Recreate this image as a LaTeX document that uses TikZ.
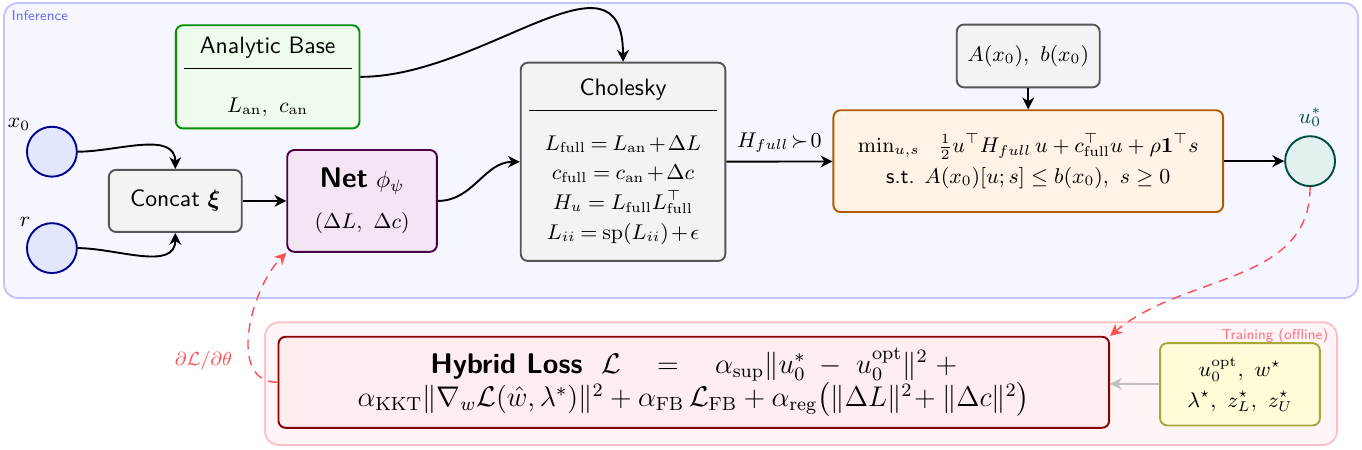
\documentclass[tikz,border=0pt]{standalone}
\usepackage{amsmath,amssymb,bm}
\usetikzlibrary{arrows.meta,positioning}
\definecolor{inferfill}{HTML}{F5F6FF}
\definecolor{inferdraw}{HTML}{C2C4FF}
\definecolor{inferlbl}{HTML}{6C70FF}
\definecolor{trainfill}{HTML}{FFF5F6}
\definecolor{traindraw}{HTML}{FFC0C4}
\definecolor{trainlbl}{HTML}{FF7080}
\definecolor{infill}{HTML}{E3E6FF}
\definecolor{indraw}{HTML}{000090}
\definecolor{boxfill}{HTML}{F3F3F3}
\definecolor{boxdraw}{HTML}{555555}
\definecolor{netfill}{HTML}{F3E5F3}
\definecolor{netdraw}{HTML}{4A0048}
\definecolor{basefill}{HTML}{EEFCEE}
\definecolor{basedraw}{HTML}{009000}
\definecolor{qpfill}{HTML}{FFF3E5}
\definecolor{qpdraw}{HTML}{B05A00}
\definecolor{outfill}{HTML}{E2F1EF}
\definecolor{outdraw}{HTML}{004D40}
\definecolor{lossfill}{HTML}{FDEDEE}
\definecolor{lossdraw}{HTML}{8B0000}
\definecolor{tgtfill}{HTML}{FFFDD8}
\definecolor{tgtdraw}{HTML}{A8A838}
\definecolor{gradred}{HTML}{FF5050}
\tikzset{
  box/.style={draw=boxdraw, fill=boxfill, thick, rounded corners=3pt, align=center, font=\sffamily},
  innode/.style={circle, draw=indraw, fill=infill, thick, minimum size=0.74cm},
  arr/.style={->, thick},
  gradarr/.style={->, semithick, dash pattern=on 4pt off 3pt, draw=gradred},
  framelabel/.style={font=\sffamily\fontsize{6}{7}\selectfont}
}
\begin{document}
\begin{tikzpicture}[>={Stealth[length=5pt,width=5pt,inset=1.6pt]}]
  \useasboundingbox (0,0) rectangle (20.2,-6.674);
  % inference frame
  \draw[thick, draw=inferdraw, fill=inferfill, rounded corners=6pt] (0.059,-0.044) rectangle (20.14,-4.42);
  \node[framelabel, anchor=north west, text=inferlbl, inner sep=1pt] (inferlabel) at (0.13,-0.12) {Inference};
  % training frame
  \draw[thick, draw=traindraw, fill=trainfill, rounded corners=6pt] (3.93,-4.78) rectangle (19.83,-6.60);
  \node[framelabel, anchor=north east, text=trainlbl, inner sep=1pt] (trainlabel) at (19.74,-4.84) {Training (offline)};
  % inputs
  \node[innode, label={[font=\small, label distance=-3pt]135:$x_0$}] (x0) at (0.77,-2.25) {};
  \node[innode, label={[font=\small, label distance=-3pt]135:$r$}] (r) at (0.77,-3.68) {};
  \node[box, minimum width=1.97cm, minimum height=0.92cm] (concat) at (2.60,-2.98) {Concat $\bm{\xi}$};
  % network and analytic prior
  \node[box, draw=netdraw, fill=netfill, minimum width=2.22cm, minimum height=1.51cm] (net) at (5.37,-2.98)
    {{\large\bfseries Net} $\phi_\psi$\\[5pt] {\small$(\Delta L,\ \Delta c)$}};
  \node[box, draw=basedraw, fill=basefill, text width=2.49cm, minimum height=1.53cm] (base) at (3.97,-1.14)
    {Analytic Base\\[-5.5pt]\rule{\linewidth}{0.5pt}\\[6pt]{\small$L_{\mathrm{an}},\ c_{\mathrm{an}}$}};
  \node[box, text width=2.80cm, minimum height=2.94cm] (chol) at (9.24,-2.40)
    {Cholesky\\[-5.5pt]\rule{\linewidth}{0.5pt}\\[5.5pt]\small
     $L_{\mathrm{full}}\!=\!L_{\mathrm{an}}\!+\!\Delta L$\\[1.5pt]
     $c_{\mathrm{full}}\!=\!c_{\mathrm{an}}\!+\!\Delta c$\\[1.5pt]
     $H_u\!=\!L_{\mathrm{full}}L_{\mathrm{full}}^\top$\\[0.5pt]
     $L_{ii}\!=\!\mathrm{sp}(L_{ii})\!+\!\epsilon$};
  % QP layer
  \node[box, draw=qpdraw, fill=qpfill, minimum width=5.78cm, minimum height=1.51cm, font=\sffamily\small] (qp) at (15.25,-2.39)
    {$\min_{u,s}\ \ \tfrac{1}{2}u^\top H_{full}\,u+c_{\mathrm{full}}^\top u+\rho\mathbf{1}^\top s$\\[2pt]
     s.t. $A(x_0)[u;s]\le b(x_0),\ s\ge 0$};
  \node[box, minimum width=2.12cm, minimum height=0.93cm, font=\small] (abox) at (15.25,-0.83) {$A(x_0),\ b(x_0)$};
  \node[innode, draw=outdraw, fill=outfill, label={[font=\small, text=outdraw]90:$u_0^*$}] (u0) at (19.43,-2.39) {};
  % training
  \node[box, draw=lossdraw, fill=lossfill, minimum width=12.32cm, minimum height=1.35cm, font=\large] (loss) at (10.29,-5.67)
    {{\sffamily\bfseries Hybrid Loss}\ \ $\mathcal{L}\quad=\quad\alpha_{\mathrm{sup}}\|u_0^*\;-\;u_0^{\mathrm{opt}}\|^2\;+$\\
     $\alpha_{\mathrm{KKT}}\|\nabla_w\mathcal{L}(\hat{w},\lambda^*)\|^2+\alpha_{\mathrm{FB}}\,\mathcal{L}_{\mathrm{FB}}+\alpha_{\mathrm{reg}}\big(\|\Delta L\|^2\!+\|\Delta c\|^2\big)$};
  \node[box, draw=tgtdraw, fill=tgtfill, minimum width=2.37cm, minimum height=1.22cm, font=\small] (target) at (18.39,-5.70)
    {$u_0^{\mathrm{opt}},\ w^\star$\\[2pt]$\lambda^\star,\ z_L^\star,\ z_U^\star$};
  % connectors
  \draw[arr] (x0.east) to[out=0,in=90] (concat.north);
  \draw[arr] (r.east) to[out=0,in=-90] (concat.south);
  \draw[arr] (concat) -- (net);
  \draw[arr] (net.east) to[out=0,in=180] (chol.west);
  \draw[arr] (base.east) to[out=0,in=90,looseness=1.2] (chol.north);
  \draw[arr] (chol) -- node[above, font=\small] {$H_{full}\!\succ\!0$} (qp);
  \draw[arr] (abox) -- (qp);
  \draw[arr] (qp) -- (u0);
  \draw[gradarr] (u0.south) to[out=-90,in=40] (loss.north east);
  \draw[arr, draw=gray!50] (target) -- (loss);
  \draw[gradarr] (loss.west) to[out=180,in=225]
    node[pos=0.3, left=4pt, font=\footnotesize, text=gradred] (gradlabel) {$\partial\mathcal{L}/\partial\theta$} (net.south west);
\end{tikzpicture}
\end{document}
